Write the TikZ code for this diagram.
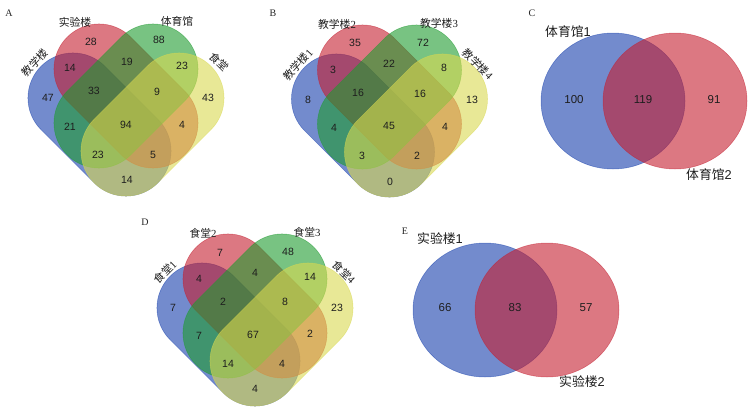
\documentclass[tikz,border=0pt]{standalone}
\usepackage{fontspec}
\setmainfont{Liberation Serif}
\setsansfont{Liberation Sans}
\newfontfamily\cjk{Noto Sans CJK SC}
\newfontfamily\arial{Liberation Sans}
\newfontfamily\tnr{Liberation Serif}
\definecolor{vblue}{RGB}{22,63,172}
\definecolor{vred}{RGB}{197,30,47}
\definecolor{vgreen}{RGB}{30,155,47}
\definecolor{vyellow}{RGB}{217,217,80}
\definecolor{numcol}{RGB}{30,30,30}
\tikzset{
  setfill/.style={fill=#1, fill opacity=0.6, draw=#1, draw opacity=0.55, line width=0.5pt},
  capsule/.style={rounded corners=44.95pt},
  num/.style={font=\arial\fontsize{10.5}{12}\selectfont, text=numcol, inner sep=0pt},
  bignum/.style={font=\arial\fontsize{11.5}{13}\selectfont, text=numcol, inner sep=0pt},
  setlab/.style={font=\fontsize{10.8}{12}\selectfont, text=numcol, inner sep=0pt},
  cjklab/.style={font=\cjk\fontsize{10.8}{12}\selectfont, text=numcol, inner sep=0pt},
  biglab/.style={font=\cjk\fontsize{12.8}{14}\selectfont, text=numcol, inner sep=0pt},
  panel/.style={font=\tnr\fontsize{10}{12}\selectfont, text=black!85, inner sep=0pt},
}
\newcommand\drawfourvenn{%
  \begin{scope}[shift={(99.5,124.5)},rotate=-45]
    \path[setfill=vblue, capsule] (-82.5,-45) rectangle (82.5,45);
  \end{scope}
  \begin{scope}[shift={(126,96)},rotate=-45]
    \path[setfill=vred, capsule] (-83.2,-45) rectangle (83.2,45);
  \end{scope}
  \begin{scope}[shift={(126,96)},rotate=45]
    \path[setfill=vgreen, capsule] (-83.2,-45) rectangle (83.2,45);
  \end{scope}
  \begin{scope}[shift={(152.5,124.5)},rotate=45]
    \path[setfill=vyellow, capsule] (-82.5,-45) rectangle (82.5,45);
  \end{scope}%
}
\begin{document}
\begin{tikzpicture}[x=1pt,y=-1pt]
\useasboundingbox (0,0) rectangle (750,407);
\fill[white] (0,0) rectangle (750,407);

% ---------- Panel A ----------
\begin{scope}\drawfourvenn\end{scope}
\node[panel] (pA) at (9,13) {A};
\node[cjklab, rotate=47] (la1) at (35,63) {教学楼};
\node[cjklab] (la2) at (75,22) {实验楼};
\node[cjklab] (la3) at (177,21) {体育馆};
\node[cjklab, rotate=-45] (la4) at (219,62) {食堂};
\node[num] (a1) at (48,98) {47};
\node[num] (a2) at (91,42) {28};
\node[num] (a3) at (159,40) {88};
\node[num] (a4) at (208,98) {43};
\node[num] (a5) at (70,68) {14};
\node[num] (a6) at (127,62) {19};
\node[num] (a7) at (182,66) {23};
\node[num] (a8) at (94,91) {33};
\node[num] (a9) at (157,92) {9};
\node[num] (a10) at (70,127) {21};
\node[num] (a11) at (126,125) {94};
\node[num] (a12) at (182,125) {4};
\node[num] (a13) at (98,155) {23};
\node[num] (a14) at (153,155) {5};
\node[num] (a15) at (127,180) {14};

% ---------- Panel B ----------
\begin{scope}[shift={(263.5,1)}]\drawfourvenn\end{scope}
\node[panel] (pB) at (273,13) {B};
\node[setlab, rotate=48] (lb1) at (298,65) {{\cjk 教学楼}{\tnr 1}};
\node[setlab] (lb2) at (337,24) {{\cjk 教学楼}{\tnr 2}};
\node[setlab] (lb3) at (439,23) {{\cjk 教学楼}{\tnr 3}};
\node[setlab, rotate=-45] (lb4) at (478,64) {{\cjk 教学楼}{\tnr 4}};
\node[num] (b1) at (355,43) {35};
\node[num] (b2) at (423,43) {72};
\node[num] (b3) at (333,70) {3};
\node[num] (b4) at (389,64) {22};
\node[num] (b5) at (444,68) {8};
\node[num] (b6) at (308,100) {8};
\node[num] (b7) at (358,93) {16};
\node[num] (b8) at (420,94) {16};
\node[num] (b9) at (472,100) {13};
\node[num] (b10) at (334,128) {4};
\node[num] (b11) at (389,126) {45};
\node[num] (b12) at (445,127) {4};
\node[num] (b13) at (362,156) {3};
\node[num] (b14) at (417,156) {2};
\node[num] (b15) at (390,182) {0};

% ---------- Panel C ----------
\path[setfill=vblue] (613,101) ellipse [x radius=72, y radius=68];
\path[setfill=vred] (675,101) ellipse [x radius=72, y radius=68];
\node[panel] (pC) at (532,13) {C};
\node[biglab] (lc1) at (568,32) {体育馆{\arial 1}};
\node[biglab] (lc2) at (709,175) {体育馆{\arial 2}};
\node[bignum] (c1) at (574,100) {100};
\node[bignum] (c2) at (643,100) {119};
\node[bignum] (c3) at (714,100) {91};

% ---------- Panel D ----------
\begin{scope}[shift={(129,210)}]\drawfourvenn\end{scope}
\node[panel] (pD) at (145,222) {D};
\node[setlab, rotate=45] (ld1) at (165,272) {{\cjk 食堂}{\tnr 1}};
\node[setlab] (ld2) at (203,233) {{\cjk 食堂}{\tnr 2}};
\node[setlab] (ld3) at (307,232) {{\cjk 食堂}{\tnr 3}};
\node[setlab, rotate=-45] (ld4) at (344,272) {{\cjk 食堂}{\tnr 4}};
\node[num] (d1) at (220,253) {7};
\node[num] (d2) at (288,252) {48};
\node[num] (d3) at (199,279) {4};
\node[num] (d4) at (255,273) {4};
\node[num] (d5) at (310,277) {14};
\node[num] (d6) at (173,308) {7};
\node[num] (d7) at (223,302) {2};
\node[num] (d8) at (285,302) {8};
\node[num] (d9) at (337,308) {23};
\node[num] (d10) at (199,336) {7};
\node[num] (d11) at (253,335) {67};
\node[num] (d12) at (310,334) {2};
\node[num] (d13) at (228,364) {14};
\node[num] (d14) at (282,364) {4};
\node[num] (d15) at (255,389) {4};

% ---------- Panel E ----------
\path[setfill=vblue] (485,310) ellipse [x radius=72, y radius=67];
\path[setfill=vred] (547,310) ellipse [x radius=72, y radius=67];
\node[panel] (pE) at (405,231) {E};
\node[biglab] (le1) at (440,239) {实验楼{\arial 1}};
\node[biglab] (le2) at (582,382) {实验楼{\arial 2}};
\node[bignum] (e1) at (445,308) {66};
\node[bignum] (e2) at (515,308) {83};
\node[bignum] (e3) at (586,308) {57};
\end{tikzpicture}
\end{document}
